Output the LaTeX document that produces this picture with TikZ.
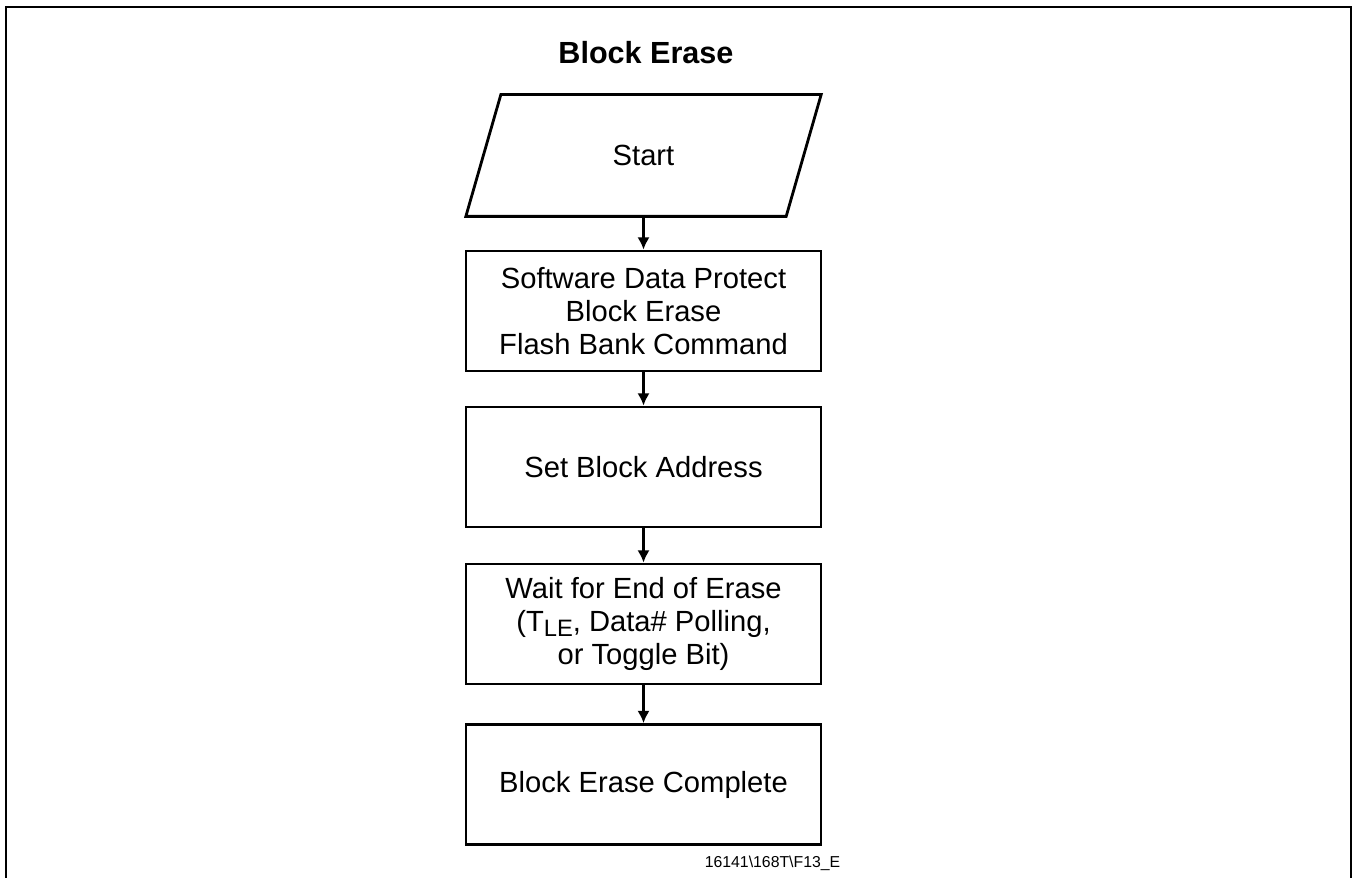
\documentclass[tikz,border=0pt]{standalone}
\usepackage{fontspec}
\setmainfont{Liberation Sans}
\usetikzlibrary{calc,arrows.meta}

\begin{document}
\begin{tikzpicture}
  \tikzstyle{box}=[rectangle,draw=black,line width=1.6pt,minimum width=7.1cm,minimum height=2.4cm,align=center,inner sep=0pt,font=\fontsize{16.6}{18.8}\selectfont]
  \tikzstyle{link}=[-{Latex[length=7pt,width=7pt]},line width=1.3pt]
  \useasboundingbox (0,0) rectangle (27.06,17.54);
  \draw[line width=1.6pt] (0.12,-0.2) -- (0.12,17.4) -- (27.02,17.4) -- (27.02,-0.2);
  \node (title) at (12.92,16.26) [anchor=base,font=\bfseries\fontsize{17.4}{20}\selectfont] {Block Erase};
  \node (start) at (12.87,14.43) [box,draw=none,minimum width=6.35cm,minimum height=2.38cm] {Start};
  \draw[line width=1.6pt] ($(start.north west)+(0.35,0)$) -- ($(start.north east)+(0.35,0)$) -- ($(start.south east)-(0.35,0)$) -- ($(start.south west)-(0.35,0)$) -- cycle;
  \node (sdp) at (12.87,11.32) [box] {Software Data Protect\\Block Erase\\Flash Bank Command};
  \node (addr) at (12.87,8.2) [box] {Set Block Address};
  \node (wait) at (12.87,5.06) [box] {Wait for End of Erase\\(T\raisebox{-0.3ex}{\fontsize{13.5}{14}\selectfont LE}, Data\# Polling,\\or Toggle Bit)};
  \node (done) at (12.87,1.85) [box] {Block Erase Complete};
  \node (tag) at (15.45,0.2) [anchor=base,font=\fontsize{9}{10}\selectfont] {16141\textbackslash 168T\textbackslash F13\_E};
  \draw[link] (start) -- (sdp);
  \draw[link] (sdp) -- (addr);
  \draw[link] (addr) -- (wait);
  \draw[link] (wait) -- (done);
\end{tikzpicture}
\end{document}
